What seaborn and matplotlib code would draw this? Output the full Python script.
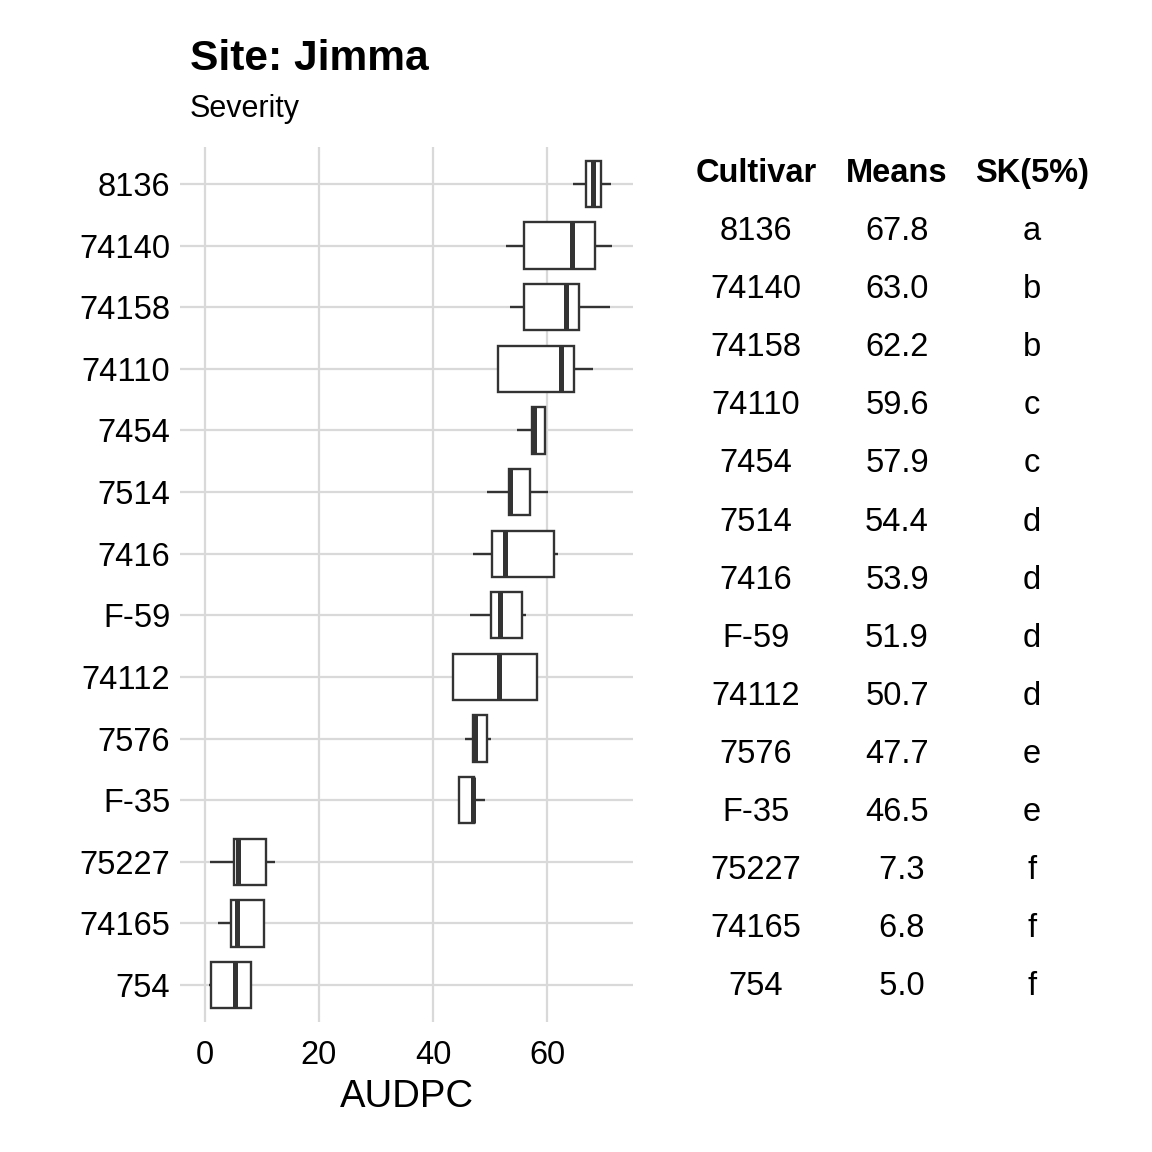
import numpy as np
import pandas as pd
import matplotlib
matplotlib.use("Agg")
import matplotlib.pyplot as plt
import seaborn as sns

# --- data (AUDPC, severity, Jimma) ---
cultivars = ["8136", "74140", "74158", "74110", "7454", "7514", "7416",
             "F-59", "74112", "7576", "F-35", "75227", "74165", "754"]
low = [64.6, 52.9, 53.6, 51.3, 54.8, 49.5, 47.1, 46.5, 43.5, 45.7, 44.5, 0.9, 2.2, 0.75]
q1 = [66.9, 55.9, 55.9, 51.4, 57.4, 53.3, 50.3, 50.1, 43.5, 47.1, 44.5, 5.1, 4.5, 1.0]
median = [68.1, 64.4, 63.4, 62.4, 57.8, 53.6, 52.7, 51.8, 51.5, 47.3, 47.0, 5.8, 5.6, 5.3]
q3 = [69.5, 68.4, 65.7, 64.8, 59.7, 57.1, 61.3, 55.7, 58.3, 49.4, 47.2, 10.7, 10.4, 8.1]
high = [71.2, 71.5, 71.1, 68.0, 59.7, 60.1, 61.9, 56.3, 58.5, 50.1, 49.2, 12.2, 10.4, 8.1]

means = [67.8, 63.0, 62.2, 59.6, 57.9, 54.4, 53.9, 51.9, 50.7, 47.7, 46.5, 7.3, 6.8, 5.0]
groups = ["a", "b", "b", "c", "c", "d", "d", "d", "d", "e", "e", "f", "f", "f"]

# five points per cultivar -> exact quartiles / whiskers
rows = []
for i, c in enumerate(cultivars):
    for v in (low[i], q1[i], median[i], q3[i], high[i]):
        rows.append({"cultivar": c, "audpc": v})
df = pd.DataFrame(rows)

sns.set_style("white")
plt.rcParams["font.family"] = ["Liberation Sans", "DejaVu Sans"]
plt.rcParams["text.color"] = "black"
plt.rcParams["axes.labelcolor"] = "black"

W = 1152
fig = plt.figure(figsize=(11.52, 11.52), dpi=100)
ax = fig.add_axes([180 / W, 1 - 1022 / W, 453 / W, 875 / W])

sns.boxplot(data=df, x="audpc", y="cultivar", order=cultivars, orient="h",
            width=0.75, color="white", linecolor="#333333", linewidth=1.7,
            showcaps=False, fliersize=0, medianprops={"linewidth": 3.6}, ax=ax)

ax.set_xlim(-4.39, 75.1)
ax.set_ylim(len(cultivars) - 0.4, -0.6)
ax.set_xticks([0, 20, 40, 60])
ax.grid(True, color="#d9d9d9", linewidth=1.6)
ax.set_axisbelow(True)
for s in ax.spines.values():
    s.set_visible(False)
ax.tick_params(axis="both", length=0, labelsize=23.5, colors="black")
ax.tick_params(axis="x", pad=13)
ax.tick_params(axis="y", pad=7)
ax.set_ylabel("")
ax.set_xlabel("AUDPC", fontsize=27.5, labelpad=6)

fig.text(190 / W, 1 - 70 / W, "Site: Jimma", fontsize=30.6, fontweight="bold", va="baseline")
fig.text(190 / W, 1 - 117 / W, "Severity", fontsize=22, va="baseline")

# table to the right
tab = fig.add_axes([650 / W, 1 - 1100 / W, 502 / W, 1000 / W])
tab.set_xlim(650, 1152)
tab.set_ylim(14.80, -2.41)
tab.axis("off")
cols_x = [756, 897, 1032]
for x, h in zip(cols_x, ["Cultivar", "Means", "SK(5%)"]):
    tab.text(x, -1, h, ha="center", va="baseline", fontsize=23.5, fontweight="bold")
for i in range(len(cultivars)):
    tab.text(cols_x[0], i, cultivars[i], ha="center", va="baseline", fontsize=23.5)
    tab.text(cols_x[1], i, "%4.1f" % means[i], ha="center", va="baseline", fontsize=23.5)
    tab.text(cols_x[2], i, groups[i], ha="center", va="baseline", fontsize=23.5)

fig.savefig("out.png", dpi=100, facecolor="white")
